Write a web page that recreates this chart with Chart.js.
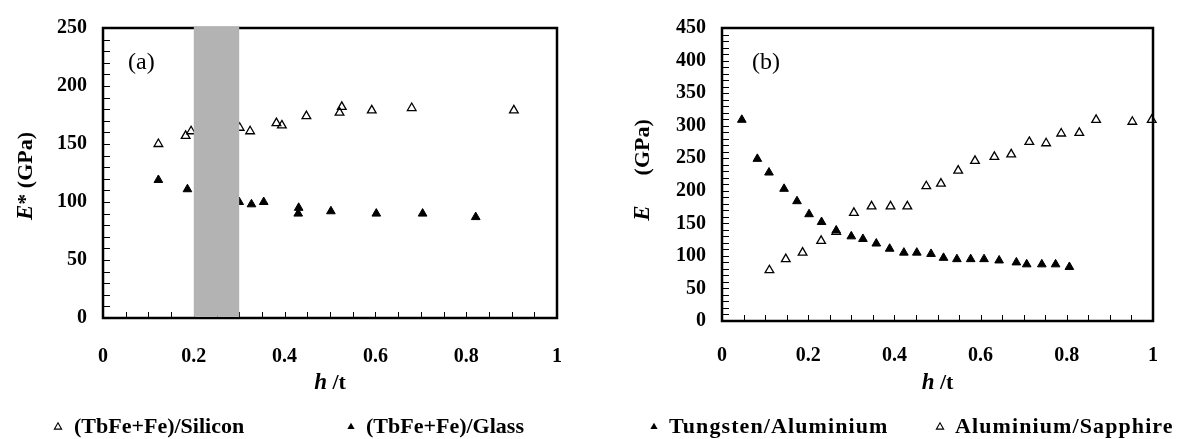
<!DOCTYPE html>
<html><head><meta charset="utf-8">
<script src="https://cdn.jsdelivr.net/npm/chart.js@4"></script>
<style>
html,body{margin:0;padding:0;background:#fff;}
#wrap{position:relative;width:1181px;height:439px;overflow:hidden;background:#fff}
canvas{position:absolute;top:0}
</style></head><body>
<div id="wrap">
<canvas id="ca" width="590" height="439" style="left:0"></canvas>
<canvas id="cb" width="591" height="439" style="left:590px"></canvas>
</div>
<script>
// ---- Data: panel (a) ----
const siliconX = [0.122, 0.182, 0.194, 0.301, 0.324, 0.382, 0.394, 0.448, 0.521, 0.526, 0.592, 0.680, 0.905];
const siliconE = [150, 157, 161, 164, 161, 168, 166, 174, 177, 182, 179, 181, 179];
const glassX   = [0.122, 0.186, 0.300, 0.327, 0.354, 0.431, 0.430, 0.502, 0.602, 0.704, 0.821];
const glassE   = [119, 111, 100, 98, 100, 95, 90, 92, 90, 90, 87];
const bandA    = [0.2, 0.3];
// ---- Data: panel (b) ----
const tungstenX = [0.046, 0.082, 0.109, 0.144, 0.174, 0.202, 0.231, 0.265, 0.300, 0.327, 0.358, 0.389, 0.422, 0.452, 0.485, 0.514, 0.545, 0.577, 0.608, 0.643, 0.683, 0.707, 0.742, 0.774, 0.806];
const tungstenE = [309, 249, 228, 203, 184, 164, 152, 139, 130, 126, 119, 111, 105, 105, 103, 97, 95, 95, 95, 93, 90, 87, 87, 87, 83];
const sapphireX = [0.110, 0.148, 0.187, 0.230, 0.265, 0.306, 0.347, 0.391, 0.430, 0.474, 0.508, 0.548, 0.587, 0.632, 0.671, 0.713, 0.752, 0.787, 0.829, 0.868, 0.952, 0.997];
const sapphireE = [78, 95, 105, 123, 137, 166, 176, 176, 176, 207, 211, 231, 246, 252, 256, 275, 273, 288, 289, 309, 306, 309];
// ---- Axis settings ----
const xRange = [0, 1], xStep = 0.2, xMinor = 0.05;
const yRangeA = [0, 250], yStepA = 50;
const yRangeB = [0, 450], yStepB = 50, yMinor = 10;

const FONT = '"Liberation Serif", "Times New Roman", serif';
const pts = (xs, ys) => xs.map((x, i) => ({x, y: ys[i]}));
const fmt = v => String(Number(Number(v).toFixed(3)));

function ds(label, xs, ys, filled, order) {
  return {
    label, data: pts(xs, ys), order,
    pointStyle: 'triangle', pointRadius: 5, pointHoverRadius: 5,
    backgroundColor: filled ? '#000' : 'rgba(255,255,255,0)',
    borderColor: '#000', borderWidth: filled ? 1 : 1.3,
    showLine: false, clip: false
  };
}

function tri(ctx, x, y, r, filled) {
  ctx.beginPath();
  ctx.moveTo(x, y - r);
  ctx.lineTo(x + r * 0.866, y + r * 0.5);
  ctx.lineTo(x - r * 0.866, y + r * 0.5);
  ctx.closePath();
  if (filled) { ctx.fillStyle = '#000'; ctx.fill(); }
  else { ctx.lineWidth = 1.1; ctx.strokeStyle = '#000'; ctx.stroke(); }
}

function drawPieces(ctx, pieces, cx, cy, rotate) {
  ctx.save();
  ctx.translate(cx, cy);
  if (rotate) ctx.rotate(-Math.PI / 2);
  ctx.textBaseline = 'middle';
  ctx.fillStyle = '#000';
  let total = 0;
  pieces.forEach(p => { if (p.gap) total += p.gap; else { ctx.font = p.font; total += ctx.measureText(p.t).width; } });
  let x = -total / 2;
  pieces.forEach(p => {
    if (p.gap) { x += p.gap; return; }
    ctx.font = p.font; ctx.textAlign = 'left';
    ctx.fillText(p.t, x, 0);
    x += ctx.measureText(p.t).width;
  });
  ctx.restore();
}

function decor(cfg) {
  return {
    id: 'decor',
    beforeDatasetsDraw(chart) {
      const {ctx, chartArea: a, scales: {x, y}} = chart;
      ctx.save();
      ctx.strokeStyle = '#000'; ctx.lineWidth = 1;
      for (let v = x.min; v <= x.max + 1e-9; v += xMinor) {
        const px = Math.round(x.getPixelForValue(v)) + 0.5;
        ctx.beginPath(); ctx.moveTo(px, a.bottom); ctx.lineTo(px, a.bottom - 6); ctx.stroke();
      }
      for (let v = y.min; v <= y.max + 1e-9; v += yMinor) {
        const py = Math.round(y.getPixelForValue(v)) + 0.5;
        ctx.beginPath(); ctx.moveTo(a.left, py); ctx.lineTo(a.left + 7, py); ctx.stroke();
      }
      ctx.lineWidth = 2.5;
      ctx.strokeRect(a.left, a.top, a.right - a.left, a.bottom - a.top);
      ctx.restore();
    },
    afterDatasetsDraw(chart) {
      if (!cfg.band) return;
      const {ctx, chartArea: a, scales: {x}} = chart;
      const x0 = x.getPixelForValue(cfg.band[0]), x1 = x.getPixelForValue(cfg.band[1]);
      ctx.save();
      ctx.fillStyle = '#b3b3b3';
      ctx.fillRect(x0, a.top - 1.3, x1 - x0, a.bottom - a.top);
      ctx.restore();
    },
    afterDraw(chart) {
      const {ctx, chartArea: a} = chart;
      ctx.save();
      ctx.font = '24px ' + FONT; ctx.fillStyle = '#000';
      ctx.textBaseline = 'middle'; ctx.textAlign = 'left';
      ctx.fillText(cfg.panel, cfg.panelX, 63);
      ctx.restore();
      drawPieces(ctx, cfg.yTitle, cfg.yTitleX, cfg.yTitleY, true);
      drawPieces(ctx, [
        {t: 'h', font: 'italic bold 23px ' + FONT},
        {t: ' /t', font: 'bold 22px ' + FONT}
      ], (a.left + a.right) / 2, 383, false);
      const dsets = chart.data.datasets;
      cfg.legend.forEach(it => {
        const d = dsets[it.i];
        ctx.save();
        tri(ctx, it.mx, 427, 4.2, d.backgroundColor === '#000');
        ctx.font = 'bold 22px ' + FONT; ctx.fillStyle = '#000';
        ctx.letterSpacing = cfg.legendSpacing || '0px';
        ctx.textBaseline = 'middle'; ctx.textAlign = 'left';
        ctx.fillText(d.label, it.tx, 427);
        ctx.restore();
      });
    }
  };
}

function makeChart(id, datasets, yRange, yStep, layout, cfg) {
  const tickFont = {family: FONT, size: 20, weight: 'bold'};
  return new Chart(document.getElementById(id), {
    type: 'scatter',
    data: {datasets},
    options: {
      responsive: false, animation: false, events: [],
      layout: {padding: {top: layout.top, right: layout.right, bottom: 0, left: 0}},
      plugins: {legend: {display: false}, tooltip: {enabled: false}},
      scales: {
        x: {
          type: 'linear', min: xRange[0], max: xRange[1],
          ticks: {stepSize: xStep, padding: layout.xPad, font: tickFont, color: '#000', maxRotation: 0, autoSkip: false, callback: fmt},
          grid: {display: false, drawTicks: false}, border: {display: false},
          afterFit(s) { s.height = layout.xH; }
        },
        y: {
          type: 'linear', min: yRange[0], max: yRange[1],
          ticks: {stepSize: yStep, padding: 16, font: tickFont, color: '#000', autoSkip: false, callback: fmt},
          grid: {display: false, drawTicks: false}, border: {display: false},
          afterFit(s) { s.width = layout.yW; }
        }
      }
    },
    plugins: [decor(cfg)]
  });
}

makeChart('ca', [
  ds('(TbFe+Fe)/Silicon', siliconX, siliconE, false, 1),
  ds('(TbFe+Fe)/Glass', glassX, glassE, true, 0)
], yRangeA, yStepA, {top: 23, right: 33, xH: 121, yW: 103, xPad: 27}, {
  band: bandA, panel: '(a)', panelX: 128,
  yTitle: [
    {t: 'E', font: 'italic bold 23px ' + FONT},
    {t: '* (GPa)', font: 'bold 22px ' + FONT}
  ],
  yTitleX: 26, yTitleY: 176,
  legend: [{i: 0, mx: 58, tx: 74}, {i: 1, mx: 351, tx: 366}]
});

makeChart('cb', [
  ds('Tungsten/Aluminium', tungstenX, tungstenE, true, 0),
  ds('Aluminium/Sapphire', sapphireX, sapphireE, false, 1)
], yRangeB, yStepB, {top: 23, right: 5.5, xH: 118, yW: 132, xPad: 23}, {
  band: null, panel: '(b)', panelX: 162,
  yTitle: [
    {t: 'E', font: 'italic bold 23px ' + FONT},
    {gap: 30},
    {t: '(GPa)', font: 'bold 22px ' + FONT}
  ],
  yTitleX: 53, yTitleY: 170,
  legendSpacing: '1.1px',
  legend: [{i: 0, mx: 64, tx: 79}, {i: 1, mx: 350, tx: 365}]
});
</script>
</body></html>
